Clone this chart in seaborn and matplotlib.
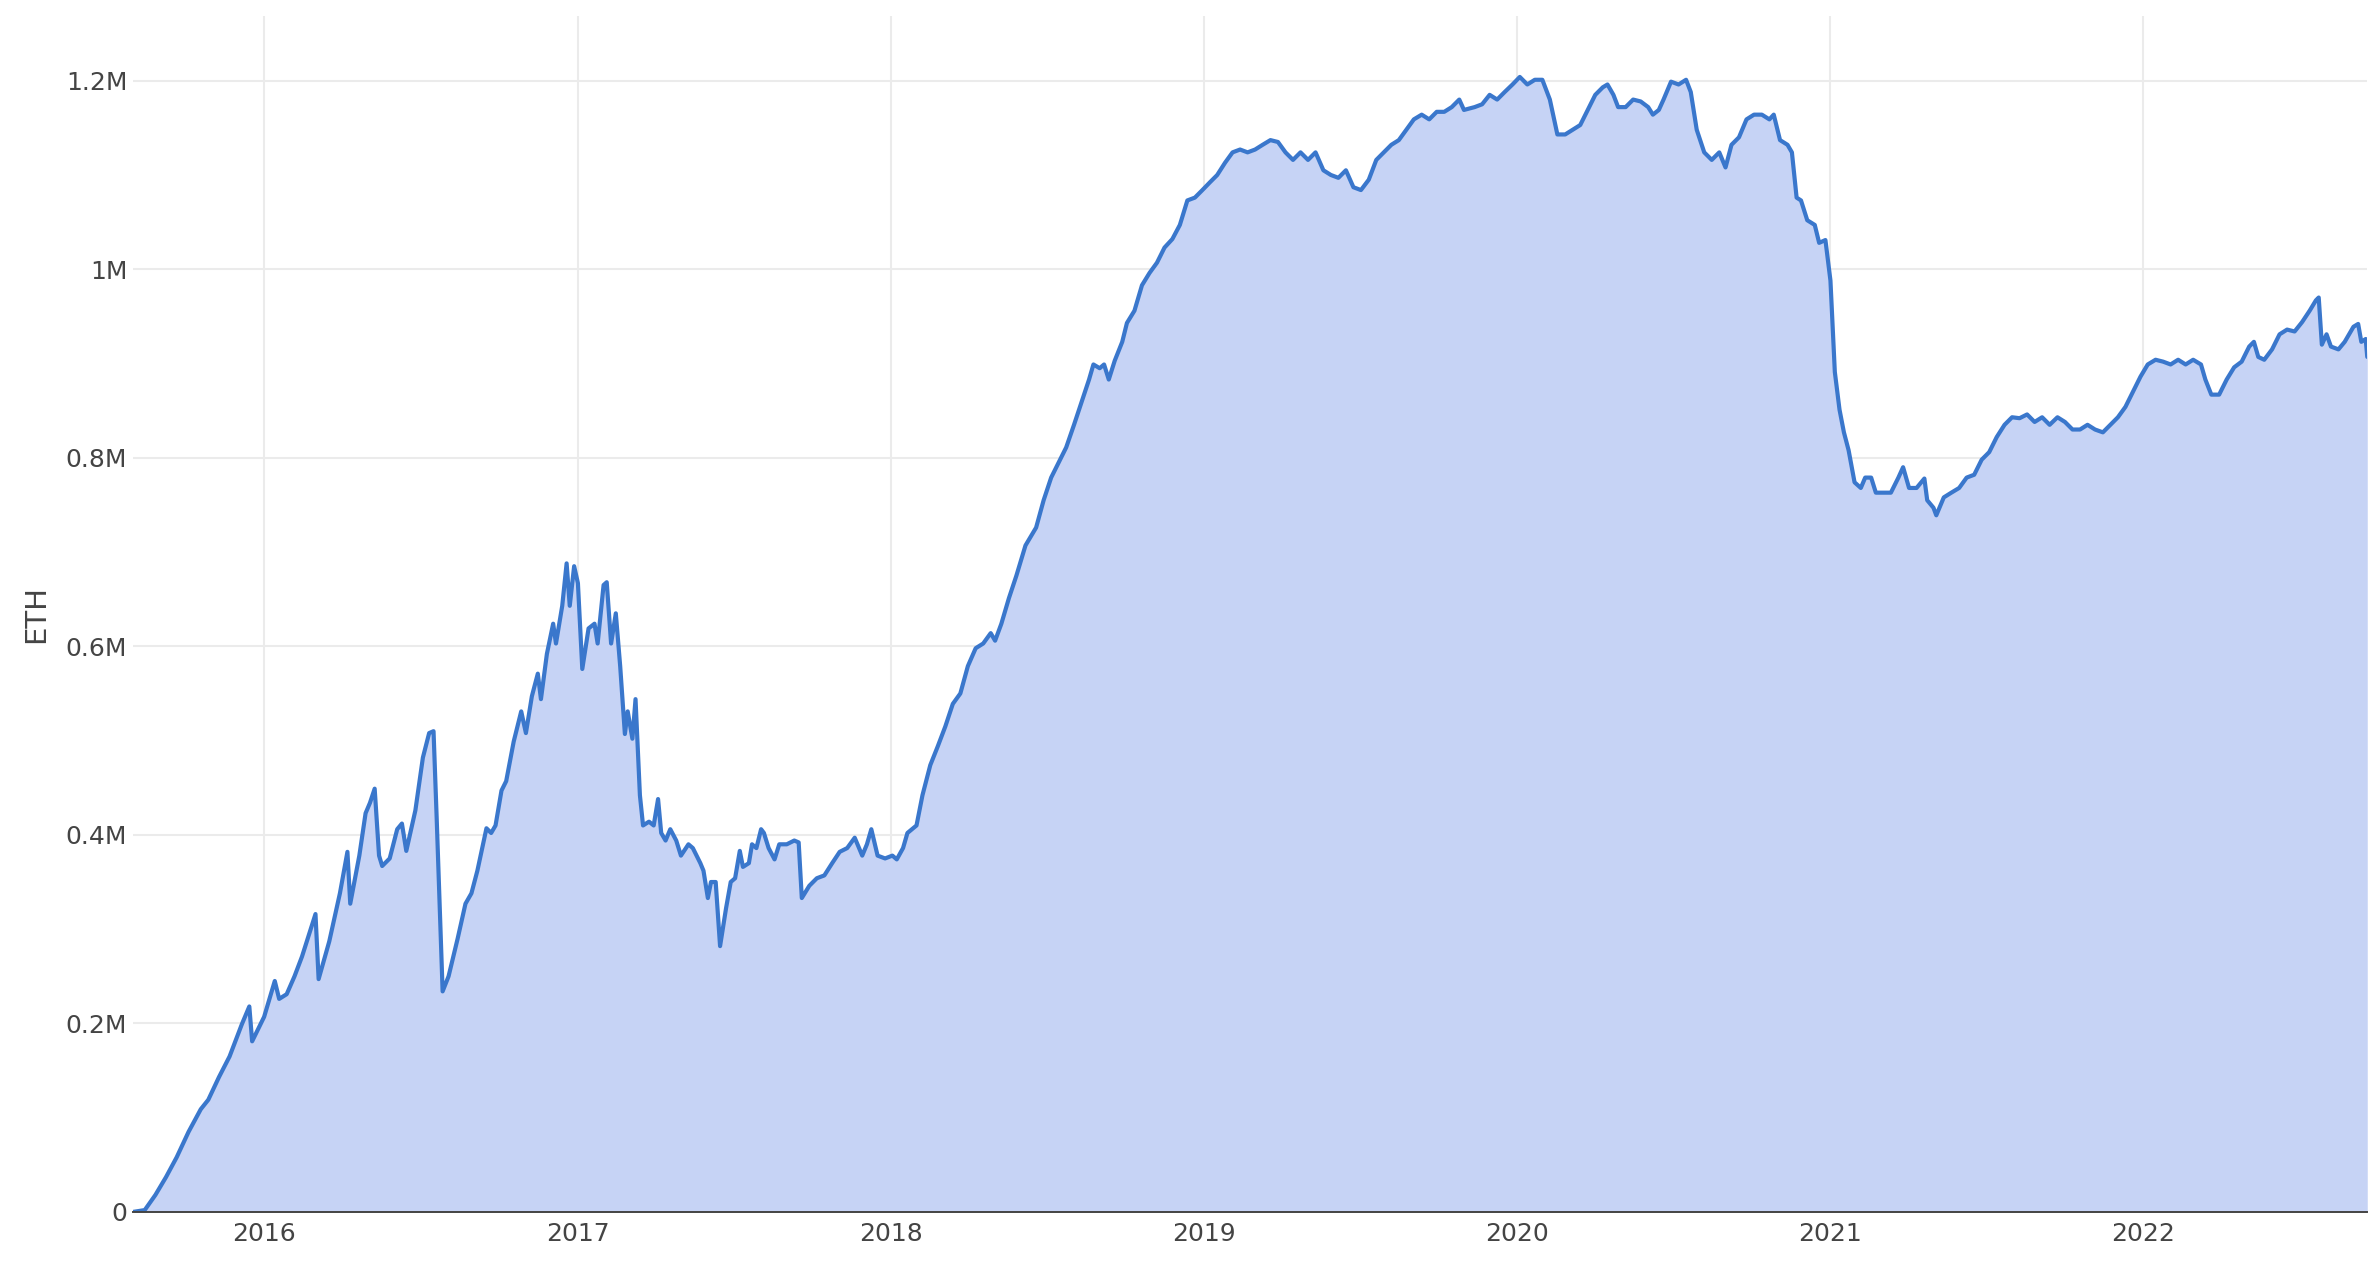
import matplotlib
matplotlib.use('Agg')
import matplotlib.pyplot as plt
import matplotlib.ticker as mticker
import seaborn as sns
import pandas as pd
import numpy as np

# ============================================
# DATA (decimal year, balance in millions of ETH)
# ============================================
YEARS = [
    2015.580, 2015.618, 2015.652, 2015.686, 2015.720, 2015.758, 2015.797, 2015.821,
    2015.855, 2015.889, 2015.928, 2015.952, 2015.961, 2016.000, 2016.034, 2016.048,
    2016.072, 2016.097, 2016.121, 2016.164, 2016.174, 2016.208, 2016.242, 2016.266,
    2016.275, 2016.304, 2016.324, 2016.338, 2016.353, 2016.367, 2016.377, 2016.401,
    2016.425, 2016.440, 2016.454, 2016.483, 2016.507, 2016.527, 2016.541, 2016.551,
    2016.570, 2016.589, 2016.618, 2016.643, 2016.662, 2016.681, 2016.710, 2016.725,
    2016.739, 2016.758, 2016.773, 2016.797, 2016.821, 2016.836, 2016.855, 2016.874,
    2016.884, 2016.903, 2016.923, 2016.932, 2016.952, 2016.966, 2016.976, 2016.990,
    2017.000, 2017.014, 2017.034, 2017.053, 2017.063, 2017.082, 2017.092, 2017.106,
    2017.121, 2017.135, 2017.150, 2017.159, 2017.174, 2017.184, 2017.198, 2017.208,
    2017.227, 2017.242, 2017.256, 2017.266, 2017.280, 2017.295, 2017.314, 2017.329,
    2017.353, 2017.367, 2017.391, 2017.401, 2017.415, 2017.425, 2017.440, 2017.454,
    2017.473, 2017.488, 2017.502, 2017.517, 2017.527, 2017.546, 2017.556, 2017.570,
    2017.585, 2017.594, 2017.609, 2017.628, 2017.643, 2017.667, 2017.691, 2017.705,
    2017.715, 2017.739, 2017.763, 2017.787, 2017.812, 2017.836, 2017.860, 2017.884,
    2017.908, 2017.923, 2017.937, 2017.957, 2017.981, 2018.005, 2018.019, 2018.039,
    2018.053, 2018.082, 2018.101, 2018.126, 2018.150, 2018.174, 2018.198, 2018.222,
    2018.246, 2018.271, 2018.295, 2018.319, 2018.333, 2018.353, 2018.377, 2018.401,
    2018.430, 2018.464, 2018.488, 2018.512, 2018.536, 2018.560, 2018.585, 2018.609,
    2018.633, 2018.647, 2018.667, 2018.681, 2018.696, 2018.715, 2018.739, 2018.754,
    2018.778, 2018.802, 2018.826, 2018.850, 2018.874, 2018.899, 2018.923, 2018.947,
    2018.971, 2018.995, 2019.019, 2019.043, 2019.068, 2019.092, 2019.116, 2019.140,
    2019.164, 2019.188, 2019.213, 2019.237, 2019.261, 2019.285, 2019.309, 2019.333,
    2019.357, 2019.382, 2019.406, 2019.430, 2019.454, 2019.478, 2019.502, 2019.527,
    2019.551, 2019.575, 2019.599, 2019.623, 2019.647, 2019.671, 2019.696, 2019.720,
    2019.744, 2019.768, 2019.792, 2019.816, 2019.831, 2019.865, 2019.889, 2019.913,
    2019.937, 2019.961, 2019.986, 2020.010, 2020.034, 2020.058, 2020.082, 2020.106,
    2020.130, 2020.155, 2020.179, 2020.203, 2020.227, 2020.251, 2020.275, 2020.290,
    2020.309, 2020.324, 2020.348, 2020.372, 2020.396, 2020.420, 2020.435, 2020.454,
    2020.469, 2020.493, 2020.517, 2020.541, 2020.556, 2020.575, 2020.599, 2020.623,
    2020.647, 2020.667, 2020.686, 2020.710, 2020.734, 2020.758, 2020.783, 2020.807,
    2020.821, 2020.841, 2020.865, 2020.879, 2020.894, 2020.908, 2020.928, 2020.952,
    2020.966, 2020.986, 2021.000, 2021.014, 2021.029, 2021.043, 2021.058, 2021.077,
    2021.097, 2021.111, 2021.130, 2021.145, 2021.169, 2021.193, 2021.217, 2021.232,
    2021.251, 2021.275, 2021.300, 2021.309, 2021.329, 2021.338, 2021.362, 2021.386,
    2021.411, 2021.435, 2021.459, 2021.483, 2021.507, 2021.531, 2021.556, 2021.580,
    2021.604, 2021.628, 2021.652, 2021.676, 2021.700, 2021.725, 2021.749, 2021.773,
    2021.797, 2021.821, 2021.845, 2021.870, 2021.894, 2021.918, 2021.942, 2021.966,
    2021.990, 2022.014, 2022.039, 2022.063, 2022.087, 2022.111, 2022.135, 2022.159,
    2022.184, 2022.198, 2022.217, 2022.242, 2022.266, 2022.290, 2022.314, 2022.338,
    2022.353, 2022.367, 2022.386, 2022.411, 2022.435, 2022.459, 2022.483, 2022.507,
    2022.531, 2022.551, 2022.560, 2022.570, 2022.585, 2022.599, 2022.623, 2022.643,
    2022.671, 2022.686, 2022.696, 2022.710, 2022.715,
]

BALANCE_M = [
    0.000, 0.002, 0.018, 0.037, 0.058, 0.085, 0.109, 0.119,
    0.143, 0.165, 0.199, 0.218, 0.181, 0.207, 0.245, 0.226,
    0.231, 0.250, 0.271, 0.316, 0.247, 0.287, 0.338, 0.382,
    0.327, 0.378, 0.423, 0.434, 0.449, 0.378, 0.367, 0.375,
    0.406, 0.412, 0.383, 0.426, 0.482, 0.508, 0.510, 0.418,
    0.234, 0.250, 0.290, 0.327, 0.338, 0.362, 0.407, 0.402,
    0.410, 0.447, 0.457, 0.499, 0.531, 0.508, 0.547, 0.571,
    0.544, 0.592, 0.624, 0.603, 0.643, 0.688, 0.643, 0.685,
    0.667, 0.576, 0.619, 0.624, 0.603, 0.665, 0.668, 0.603,
    0.635, 0.579, 0.507, 0.531, 0.502, 0.544, 0.442, 0.410,
    0.414, 0.410, 0.438, 0.402, 0.394, 0.406, 0.394, 0.378,
    0.390, 0.386, 0.370, 0.362, 0.333, 0.350, 0.350, 0.282,
    0.322, 0.350, 0.354, 0.383, 0.366, 0.370, 0.390, 0.386,
    0.406, 0.402, 0.386, 0.374, 0.390, 0.390, 0.394, 0.392,
    0.333, 0.346, 0.354, 0.357, 0.370, 0.382, 0.386, 0.397,
    0.378, 0.390, 0.406, 0.378, 0.375, 0.378, 0.374, 0.386,
    0.402, 0.410, 0.442, 0.474, 0.494, 0.515, 0.539, 0.550,
    0.579, 0.598, 0.603, 0.614, 0.606, 0.624, 0.651, 0.675,
    0.707, 0.726, 0.755, 0.779, 0.795, 0.811, 0.835, 0.859,
    0.883, 0.899, 0.895, 0.899, 0.883, 0.903, 0.923, 0.943,
    0.956, 0.983, 0.996, 1.007, 1.023, 1.032, 1.047, 1.073,
    1.076, 1.084, 1.092, 1.100, 1.113, 1.124, 1.127, 1.124,
    1.127, 1.132, 1.137, 1.135, 1.124, 1.116, 1.124, 1.116,
    1.124, 1.105, 1.100, 1.097, 1.105, 1.087, 1.084, 1.095,
    1.116, 1.124, 1.132, 1.137, 1.148, 1.159, 1.164, 1.159,
    1.167, 1.167, 1.172, 1.180, 1.169, 1.172, 1.175, 1.185,
    1.180, 1.188, 1.196, 1.204, 1.196, 1.201, 1.201, 1.180,
    1.143, 1.143, 1.148, 1.153, 1.169, 1.185, 1.193, 1.196,
    1.185, 1.172, 1.172, 1.180, 1.178, 1.172, 1.164, 1.169,
    1.180, 1.199, 1.196, 1.201, 1.188, 1.148, 1.124, 1.116,
    1.124, 1.108, 1.132, 1.140, 1.159, 1.164, 1.164, 1.159,
    1.164, 1.137, 1.132, 1.124, 1.076, 1.073, 1.052, 1.047,
    1.028, 1.031, 0.988, 0.891, 0.851, 0.827, 0.808, 0.774,
    0.768, 0.779, 0.779, 0.763, 0.763, 0.763, 0.779, 0.790,
    0.768, 0.768, 0.778, 0.755, 0.747, 0.739, 0.758, 0.763,
    0.768, 0.779, 0.782, 0.798, 0.806, 0.822, 0.835, 0.843,
    0.842, 0.846, 0.838, 0.843, 0.835, 0.843, 0.838, 0.830,
    0.830, 0.835, 0.830, 0.827, 0.835, 0.843, 0.854, 0.870,
    0.886, 0.899, 0.904, 0.902, 0.899, 0.904, 0.899, 0.904,
    0.899, 0.883, 0.867, 0.867, 0.883, 0.896, 0.902, 0.918,
    0.923, 0.907, 0.904, 0.915, 0.931, 0.936, 0.934, 0.944,
    0.956, 0.967, 0.970, 0.920, 0.931, 0.918, 0.915, 0.923,
    0.939, 0.942, 0.923, 0.926, 0.907,
]

Y_TICKS_M = [0, 0.2, 0.4, 0.6, 0.8, 1.0, 1.2]
X_TICK_YEARS = [2016, 2017, 2018, 2019, 2020, 2021, 2022]
Y_LABEL = 'ETH'

LINE_COLOR = '#3a77cc'
FILL_COLOR = '#c6d3f5'
GRID_COLOR = '#ebebeb'
TEXT_COLOR = '#444444'


def year_to_date(t):
    base = pd.Timestamp(year=int(t), month=1, day=1)
    return base + pd.Timedelta(days=(t - int(t)) * 365.25)


df = pd.DataFrame({
    'date': [year_to_date(t) for t in YEARS],
    'eth': np.array(BALANCE_M) * 1e6,
})

# ============================================
# PLOT
# ============================================
sns.set_style('white')
plt.rcParams['font.family'] = ['DejaVu Sans']

fig = plt.figure(figsize=(23.72, 12.74), dpi=100)
ax = fig.add_axes([0.056, 0.0487, 0.942, 0.939])

ax.fill_between(df['date'], 0, df['eth'], color=FILL_COLOR, linewidth=0, zorder=2)
sns.lineplot(data=df, x='date', y='eth', ax=ax, color=LINE_COLOR,
             linewidth=3.0, zorder=3)

ax.set_xlim(df['date'].iloc[0], df['date'].iloc[-1])
ax.set_ylim(0, 1.269e6)

ax.set_yticks([v * 1e6 for v in Y_TICKS_M])
ax.yaxis.set_major_formatter(mticker.FuncFormatter(
    lambda v, _: '0' if v == 0 else f'{v / 1e6:g}M'))
ax.set_xticks([pd.Timestamp(year=y, month=1, day=1) for y in X_TICK_YEARS])
ax.set_xticklabels([str(y) for y in X_TICK_YEARS])

ax.grid(True, color=GRID_COLOR, linewidth=1.5, zorder=0)
ax.set_axisbelow(True)
for side in ['top', 'right', 'left']:
    ax.spines[side].set_visible(False)
ax.spines['bottom'].set_color(TEXT_COLOR)
ax.spines['bottom'].set_linewidth(1.4)
ax.spines['bottom'].set_zorder(4)

ax.tick_params(axis='both', length=0, labelsize=18, labelcolor=TEXT_COLOR)
ax.tick_params(axis='x', pad=7)
ax.tick_params(axis='y', pad=4)

ax.set_xlabel('')
ax.set_ylabel(Y_LABEL, fontsize=21, color=TEXT_COLOR, labelpad=11)

fig.savefig('out.png', dpi=100)
plt.close(fig)
